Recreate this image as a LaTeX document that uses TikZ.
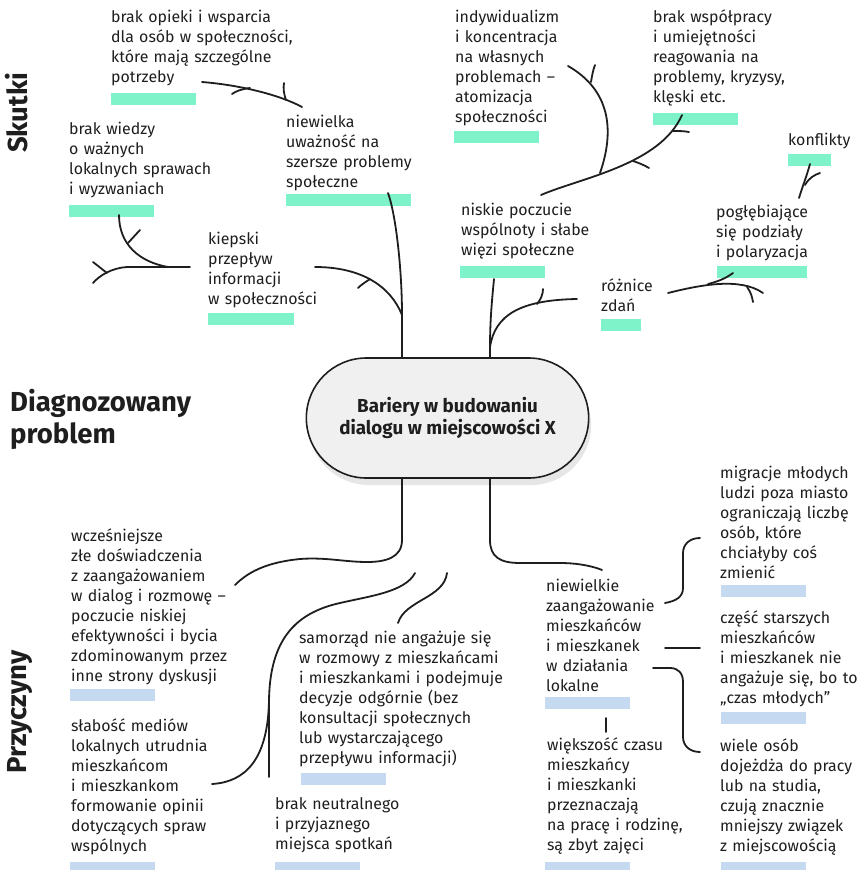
\documentclass[tikz,border=0pt]{standalone}
\usepackage{fontspec}
\setmainfont{Fira Sans}
\newfontfamily\headfont{Fira Sans}
\usetikzlibrary{shapes.misc}

\definecolor{ink}{HTML}{1E1E1E}
\definecolor{barG}{HTML}{7EF2C9}
\definecolor{barB}{HTML}{C5D9F1}
\definecolor{coreFill}{HTML}{F0F0F0}
\definecolor{coreShadow}{HTML}{E6E6E6}

% invisible strut fixing the height of the first text line
\newcommand\tstrut{\vrule height 14pt depth 0pt width 0pt}

\tikzset{
  txt/.style={anchor=north west, inner sep=0pt, text width=#1, align=left,
              font=\fontsize{15.9}{20}\selectfont, text=ink},
  txt/.default=230pt,
  gbar/.style={anchor=north west, inner sep=0pt, fill=barG, minimum height=12, minimum width=#1},
  gbar/.default=85,
  bbar/.style={anchor=north west, inner sep=0pt, fill=barB, minimum height=12, minimum width=#1},
  bbar/.default=85,
  heading/.style={inner sep=0pt, text=ink, font=\headfont\bfseries\fontsize{27.5}{32}\selectfont},
  root/.style={draw=ink, line width=1.8pt, line cap=round},
}

\begin{document}
\begin{tikzpicture}[x=1pt, y=-1pt]
\useasboundingbox (0,0) rectangle (857,870);

% ---------- section headings ----------
\node[heading, rotate=90] (hskutki) at (17,113) {Skutki};
\node[heading, anchor=north west, align=left] (hdiag) at (10,385)
  {\vrule height 26pt depth 0pt width 0pt Diagnozowany\\problem};
\node[heading, rotate=90] (hprzy) at (20,712) {Przyczyny};

% ---------- central problem ----------
\node[rounded rectangle, minimum width=289, minimum height=120, fill=coreShadow]
  (coreshadow) at (450,425) {};
\node[rounded rectangle, minimum width=289, minimum height=120, draw=ink,
      line width=1.6pt, fill=coreFill, align=center, text=ink,
      font=\headfont\bfseries\fontsize{18.8}{22}\selectfont]
  (core) at (447.5,418) {Bariery w budowaniu\\dialogu w miejscowości X};

% ---------- effects (top) ----------
\node[txt] (s1) at (111,8) {\tstrut brak opieki i wsparcia\\dla osób w społeczności,\\które mają szczególne\\potrzeby};
\node[gbar] (s1b) at (111,93) {};
\node[txt] (s2) at (69,120) {\tstrut brak wiedzy\\o ważnych\\lokalnych sprawach\\i wyzwaniach};
\node[gbar] (s2b) at (69,205) {};
\node[txt] (s3) at (286,113) {\tstrut niewielka\\uważność na\\szersze problemy\\społeczne};
\node[gbar=125] (s3b) at (286,194) {};
\node[txt] (s4) at (208,230) {\tstrut kiepski\\przepływ\\informacji\\w społeczności};
\node[gbar=86] (s4b) at (208,313) {};
\node[txt] (s5) at (455,8) {\tstrut indywidualizm\\i koncentracja\\na własnych\\problemach –\\atomizacja\\społeczności};
\node[gbar] (s5b) at (454,131) {};
\node[txt] (s6) at (653,8) {\tstrut brak współpracy\\i umiejętności\\reagowania na\\problemy, kryzysy,\\klęski etc.};
\node[gbar] (s6b) at (653,113) {};
\node[txt] (s7) at (788,131) {\tstrut konflikty};
\node[gbar=43] (s7b) at (788,154) {};
\node[txt] (s8) at (716,203) {\tstrut pogłębiające\\się podziały\\i polaryzacja};
\node[gbar=90] (s8b) at (717,266) {};
\node[txt] (s9) at (461,201) {\tstrut niskie poczucie\\wspólnoty i słabe\\więzi społeczne};
\node[gbar] (s9b) at (460,266) {};
\node[txt] (s10) at (601,277) {\tstrut różnice\\zdań};
\node[gbar=40] (s10b) at (601,319) {};

% ---------- causes (bottom) ----------
\node[txt] (p1) at (71,527) {\tstrut wcześniejsze\\złe doświadczenia\\z zaangażowaniem\\w dialog i rozmowę –\\poczucie niskiej\\efektywności i bycia\\zdominowanym przez\\inne strony dyskusji};
\node[bbar] (p1b) at (70,689) {};
\node[txt] (p2) at (71,717) {\tstrut słabość mediów\\lokalnych utrudnia\\mieszkańcom\\i mieszkankom\\formowanie opinii\\dotyczących spraw\\wspólnych};
\node[bbar] (p2b) at (70,862) {};
\node[txt] (p3) at (299,629) {\tstrut samorząd nie angażuje się\\w rozmowy z mieszkańcami\\i mieszkankami i podejmuje\\decyzje odgórnie (bez\\konsultacji społecznych\\lub wystarczającego\\przepływu informacji)};
\node[bbar] (p3b) at (301,773) {};
\node[txt] (p4) at (275,795) {\tstrut brak neutralnego\\i przyjaznego\\miejsca spotkań};
\node[bbar] (p4b) at (275,862) {};
\node[txt] (p5) at (546,577) {\tstrut niewielkie\\zaangażowanie\\mieszkańców\\i mieszkanek\\w działania\\lokalne};
\node[bbar] (p5b) at (545,697) {};
\node[txt] (p6) at (547,736) {\tstrut większość czasu\\mieszkańcy\\i mieszkanki\\przeznaczają\\na pracę i rodzinę,\\są zbyt zajęci};
\node[bbar] (p6b) at (545,862) {};
\node[txt] (p7) at (720,464) {\tstrut migracje młodych\\ludzi poza miasto\\ograniczają liczbę\\osób, które\\chciałyby coś\\zmienić};
\node[bbar] (p7b) at (721,585) {};
\node[txt] (p8) at (720,609) {\tstrut część starszych\\mieszkańców\\i mieszkanek nie\\angażuje się, bo to\\„czas młodych”};
\node[bbar] (p8b) at (721,712) {};
\node[txt] (p9) at (720,737) {\tstrut wiele osób\\dojeżdża do pracy\\lub na studia,\\czują znacznie\\mniejszy związek\\z miejscowością};
\node[bbar] (p9b) at (721,862) {};

% ---------- branch points ----------
\coordinate (ka) at (402,315);
\coordinate (kb) at (490,347);
\coordinate (kc) at (168,267);
\coordinate (kd) at (600,173);
\coordinate (ke) at (269,700);

% ---------- upper tree, left ----------
\draw[root] (core.north -| ka) -- (ka) .. controls (402,270) and (396,215) .. (388,193);
\draw[root] (ka) .. controls (390,285) and (360,267) .. (315,267);
\draw[root] (370,279) .. controls (364,283) and (361,285) .. (358,288);
% niewielka uważność -> brak opieki
\draw[root] (302,107) .. controls (280,95) and (240,85) .. (202,82);
\draw[root] (250,88) .. controls (242,89) and (236,91) .. (232,94);
\draw[root] (286,100) .. controls (284,94) and (283,89) .. (284,83);
% kiepski przepływ -> left
\draw[root] (190,267) -- (127,267) .. controls (112,268) and (100,275) .. (93,283);
\draw[root] (kc) .. controls (140,262) and (119,245) .. (119,215);
\draw[root] (128,243) -- (140,230);
\draw[root] (107,273) -- (93,262);

% ---------- upper tree, right ----------
\draw[root] (core.north -| kb) -- (kb) .. controls (490,320) and (492,300) .. (494,279);
\draw[root] (kb) .. controls (495,315) and (520,300) .. (577,299);
\draw[root] (537,304) .. controls (541,299) and (543,294) .. (543,289);
% różnice -> pogłębiające
\draw[root] (668,293) .. controls (700,285) and (740,277) .. (763,293);
\draw[root] (733,273) .. controls (725,279) and (716,282) .. (708,284);
\draw[root] (747,287) .. controls (751,292) and (752,297) .. (753,302);
% pogłębiające -> konflikty
\draw[root] (799,198) .. controls (803,185) and (807,175) .. (810,164);
\draw[root] (805,185) .. controls (809,178) and (814,175) .. (820,173);
% niskie poczucie -> upper twig
\draw[root] (541,195) .. controls (580,178) and (660,165) .. (682,115);
\draw[root] (kd) .. controls (615,130) and (610,90) .. (568,66);
\draw[root] (591,82) .. controls (592,76) and (593,70) .. (595,65);
\draw[root] (633,161) .. controls (639,163) and (644,165) .. (649,168);
\draw[root] (673,131) .. controls (679,131) and (684,131) .. (689,132);

% ---------- lower roots ----------
\draw[root] (core.south -| ka) -- (402,540) .. controls (402,558) and (385,562) .. (367,562)
  .. controls (345,562) and (325,557) .. (300,559) .. controls (270,562) and (250,570) .. (235,585);
\draw[root] (core.south -| kb) -- (490,540) .. controls (490,557) and (500,563) .. (520,563)
  -- (560,563) .. controls (580,563) and (595,567) .. (602,570);
\draw[root] (415,573) .. controls (405,592) and (370,596) .. (340,603)
  .. controls (295,613) and (270,640) .. (ke) -- (269,777);
\draw[root] (ke) .. controls (268,760) and (245,782) .. (212,784);
\draw[root] (447,573) .. controls (444,598) and (405,600) .. (398,623);

% ---------- brackets of the right-hand cause ----------
\draw[root] (665,603) .. controls (676,601) and (683,597) .. (683,588) -- (683,553)
  .. controls (683,544) and (690,538) .. (700,538);
\draw[root] (665,648) -- (700,648);
\draw[root] (653,668) -- (670,668) .. controls (678,668) and (683,673) .. (683,682)
  -- (683,737) .. controls (683,746) and (690,752) .. (700,752);
\draw[root] (606,718) -- (606,732);

\end{tikzpicture}
\end{document}
